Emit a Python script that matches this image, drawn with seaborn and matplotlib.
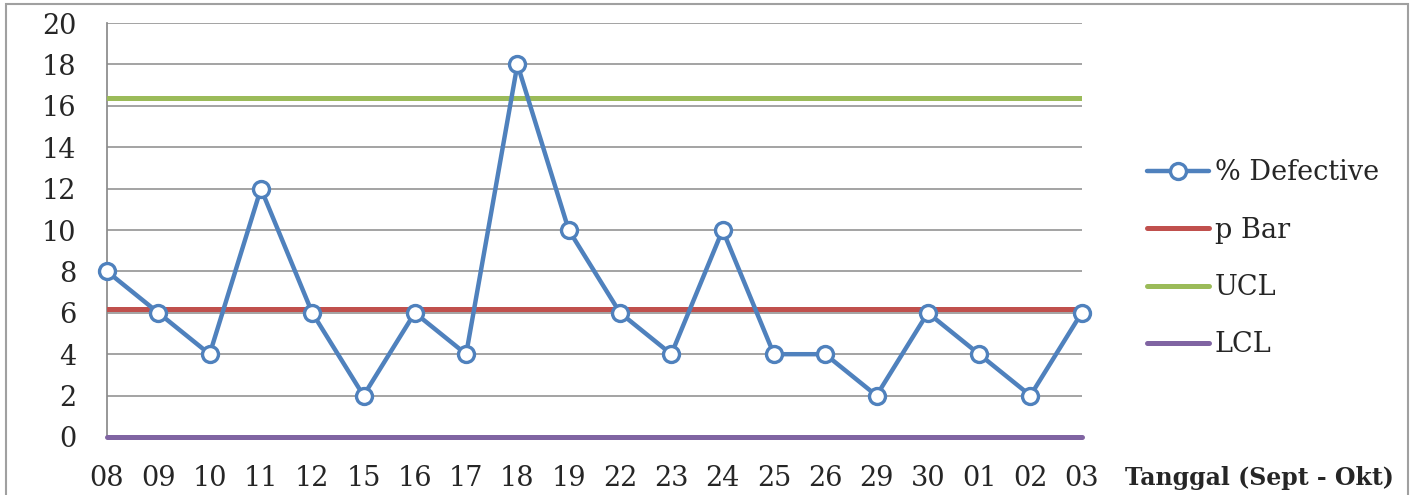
import matplotlib
matplotlib.use("Agg")
import matplotlib.pyplot as plt
import seaborn as sns
import pandas as pd
import numpy as np
from matplotlib.patches import Rectangle

dates = ["08", "09", "10", "11", "12", "15", "16", "17", "18", "19",
         "22", "23", "24", "25", "26", "29", "30", "01", "02", "03"]
defective = [8, 6, 4, 12, 6, 2, 6, 4, 18, 10, 6, 4, 10, 4, 4, 2, 6, 4, 2, 6]
p_bar = 6.2
ucl = 16.4
lcl = 0.0
y_ticks = [0, 2, 4, 6, 8, 10, 12, 14, 16, 18, 20]
x_title = "Tanggal (Sept - Okt)"

sns.set_theme(style="white")
plt.rcParams['font.family'] = ['DejaVu Serif', 'Liberation Serif']

FS = 19.5

pos = np.arange(len(dates))
df = pd.DataFrame({
    "pos": pos,
    "% Defective": defective,
    "p Bar": [p_bar] * len(dates),
    "UCL": [ucl] * len(dates),
    "LCL": [lcl] * len(dates),
})

fig = plt.figure(figsize=(14.14, 4.95), dpi=100)
ax = fig.add_axes([0.0757, 0.1172, 0.765 - 0.0757, 0.9535 - 0.1172])

colors = {"% Defective": "#4F81BD", "p Bar": "#C0504D", "UCL": "#9BBB59", "LCL": "#8064A2"}

sns.lineplot(data=df, x="pos", y="p Bar", ax=ax, color=colors["p Bar"], lw=3.6,
             label="p Bar", zorder=3)
sns.lineplot(data=df, x="pos", y="UCL", ax=ax, color=colors["UCL"], lw=3.6,
             label="UCL", zorder=3)
sns.lineplot(data=df, x="pos", y="LCL", ax=ax, color=colors["LCL"], lw=3.6,
             label="LCL", zorder=3, clip_on=False)
sns.lineplot(data=df, x="pos", y="% Defective", ax=ax, color=colors["% Defective"],
             lw=3.2, marker="o", markersize=11.5, markerfacecolor="white",
             markeredgecolor=colors["% Defective"], markeredgewidth=2.4,
             label="% Defective", zorder=4, clip_on=False)

ax.set_xlim(0, len(dates) - 1)
ax.set_ylim(0, 20)
ax.set_yticks(y_ticks)
ax.set_yticklabels([str(v) for v in y_ticks], fontsize=FS)
ax.set_xticks(pos)
ax.set_xticklabels(dates, fontsize=FS)
ax.set_xlabel("")
ax.set_ylabel("")

ax.grid(axis="y", color="#8a8a8a", lw=1.1)
ax.grid(axis="x", visible=False)
for s in ["top", "right"]:
    ax.spines[s].set_visible(False)
ax.spines["left"].set_color("#8a8a8a")
ax.spines["bottom"].set_color("#8a8a8a")
ax.tick_params(axis="both", which="both", direction="out", length=7,
               color="#8a8a8a", width=1.1)
ax.tick_params(axis="x", pad=13)
ax.tick_params(axis="y", pad=15)

h, l = ax.get_legend_handles_labels()
order = [l.index(k) for k in ["% Defective", "p Bar", "UCL", "LCL"]]
ax.legend([h[i] for i in order], [l[i] for i in order], loc="center left",
          bbox_to_anchor=(1.042, 0.43), frameon=False, fontsize=FS,
          handlelength=2.3, handletextpad=0.2, labelspacing=1.12)

fig.canvas.draw()
lab = ax.get_xticklabels()[0]
bb = lab.get_window_extent()
ycen_fig = ((bb.y0 + bb.y1) / 2) / fig.bbox.height
fig.text(0.7956, ycen_fig, x_title, fontsize=17, fontweight="bold",
         ha="left", va="center")

fig.patches.append(Rectangle((0.004, -0.1), 0.992, 1.092, transform=fig.transFigure,
                             fill=False, edgecolor="#a0a0a0", lw=1.5))

fig.savefig("out.png", dpi=100)
